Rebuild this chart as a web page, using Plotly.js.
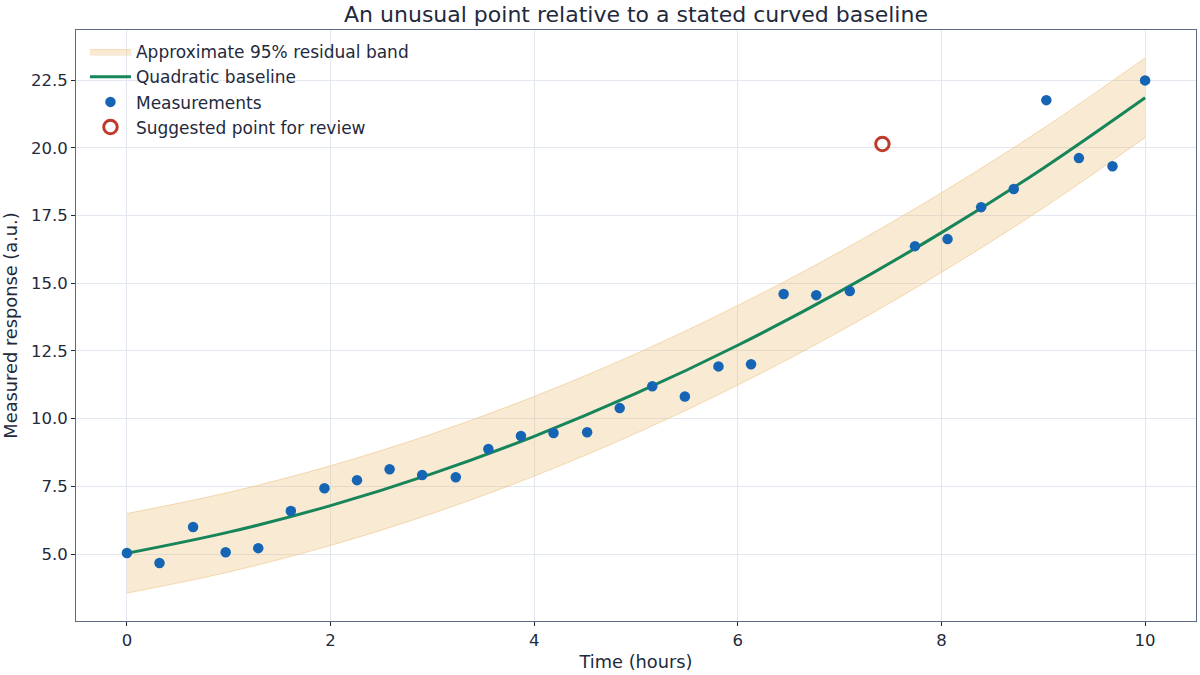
<!DOCTYPE html>
<html>
<head>
<meta charset="utf-8">
<script src="https://cdn.plot.ly/plotly-3.0.1.min.js"></script>
<style>
  html, body { margin: 0; padding: 0; background: #ffffff; }
  #chart { width: 1200px; height: 675px; }
</style>
</head>
<body>
<div id="chart"></div>
<script>
const measTime = [0, 0.32, 0.65, 0.97, 1.29, 1.61, 1.94, 2.26, 2.58, 2.90, 3.23,
    3.55, 3.87, 4.19, 4.52, 4.84, 5.16, 5.48, 5.81, 6.13, 6.45, 6.77, 7.10,
    7.74, 8.06, 8.39, 8.71, 9.03, 9.35, 9.68, 10.0];
const measValue = [5.04, 4.67, 6.00, 5.07, 5.22, 6.59, 7.43, 7.73, 8.13, 7.92, 7.84,
    8.88, 9.36, 9.47, 9.50, 10.39, 11.20, 10.82, 11.93, 12.01, 14.60, 14.56, 14.71,
    16.37, 16.63, 17.81, 18.48, 21.76, 19.62, 19.32, 22.49];

// Point flagged for review
const reviewTime = [7.42];
const reviewValue = [20.14];

// Baseline and residual band, read at whole hours
const curveTime = [0, 1, 2, 3, 4, 5, 6, 7, 8, 9, 10];
const baseline = [5.03, 5.81, 6.79, 7.97, 9.35, 10.93, 12.71, 14.69, 16.87, 19.25, 21.85];
const bandUpper = [6.50, 7.28, 8.26, 9.44, 10.82, 12.40, 14.18, 16.16, 18.34, 20.72, 23.32];
const bandLower = [3.56, 4.34, 5.32, 6.50, 7.88, 9.46, 11.24, 13.22, 15.40, 17.78, 20.38];

const xTicks = [0, 2, 4, 6, 8, 10];
const yTicks = [5.0, 7.5, 10.0, 12.5, 15.0, 17.5, 20.0, 22.5];

const palette = {
    band: 'rgba(236, 192, 124, 0.33)',
    bandEdge: 'rgba(236, 192, 124, 0.55)',
    green: '#17855a',
    blue: '#1565b4',
    red: '#c0392b',
    ink: '#1f2a3d',
    axis: '#5b6b84',
    grid: '#e2e7f0'
};

const font = 'DejaVu Sans, sans-serif';

const traces = [
    {
        x: curveTime, y: bandLower,
        type: 'scatter', mode: 'lines',
        line: { color: palette.bandEdge, width: 1, shape: 'spline' },
        showlegend: false, hoverinfo: 'skip'
    },
    {
        x: curveTime, y: bandUpper,
        type: 'scatter', mode: 'lines',
        fill: 'tonexty', fillcolor: palette.band,
        line: { color: palette.bandEdge, width: 1, shape: 'spline' },
        name: 'Approximate 95% residual band'
    },
    {
        x: curveTime, y: baseline,
        type: 'scatter', mode: 'lines',
        line: { color: palette.green, width: 3, shape: 'spline' },
        name: 'Quadratic baseline'
    },
    {
        x: measTime, y: measValue,
        type: 'scatter', mode: 'markers',
        marker: { color: palette.blue, size: 10.5 },
        name: 'Measurements'
    },
    {
        x: reviewTime, y: reviewValue,
        type: 'scatter', mode: 'markers',
        marker: { color: 'rgba(0,0,0,0)', size: 13.5, line: { color: palette.red, width: 3 } },
        name: 'Suggested point for review'
    }
];

const axisCommon = {
    showline: true, mirror: true,
    linecolor: palette.axis, linewidth: 1,
    gridcolor: palette.grid, gridwidth: 1,
    zeroline: false,
    ticks: 'outside', ticklen: 4, tickcolor: palette.ink, tickwidth: 1,
    tickfont: { family: font, size: 16.5, color: palette.ink }
};

const layout = {
    width: 1200,
    height: 675,
    margin: { l: 76, r: 4, t: 30, b: 54 },
    paper_bgcolor: '#ffffff',
    plot_bgcolor: '#ffffff',
    font: { family: font, color: palette.ink },
    title: {
        text: 'An unusual point relative to a stated curved baseline',
        font: { family: font, size: 22, color: palette.ink },
        x: 0.53, xanchor: 'center',
        y: 0.979, yanchor: 'middle'
    },
    xaxis: Object.assign({}, axisCommon, {
        range: [-0.5, 10.5],
        tickvals: xTicks,
        title: { text: 'Time (hours)', font: { family: font, size: 17.8, color: palette.ink }, standoff: 6 }
    }),
    yaxis: Object.assign({}, axisCommon, {
        range: [2.53, 24.35],
        tickvals: yTicks,
        tickformat: '.1f',
        title: { text: 'Measured response (a.u.)', font: { family: font, size: 17.8, color: palette.ink }, standoff: 10 }
    }),
    legend: {
        x: 0.008, y: 0.993, xanchor: 'left', yanchor: 'top',
        bgcolor: 'rgba(255,255,255,0)',
        font: { family: font, size: 17, color: palette.ink },
        itemwidth: 41,
        traceorder: 'normal'
    },
    showlegend: true
};

Plotly.newPlot('chart', traces, layout, { displayModeBar: false, staticPlot: true });
</script>
</body>
</html>
